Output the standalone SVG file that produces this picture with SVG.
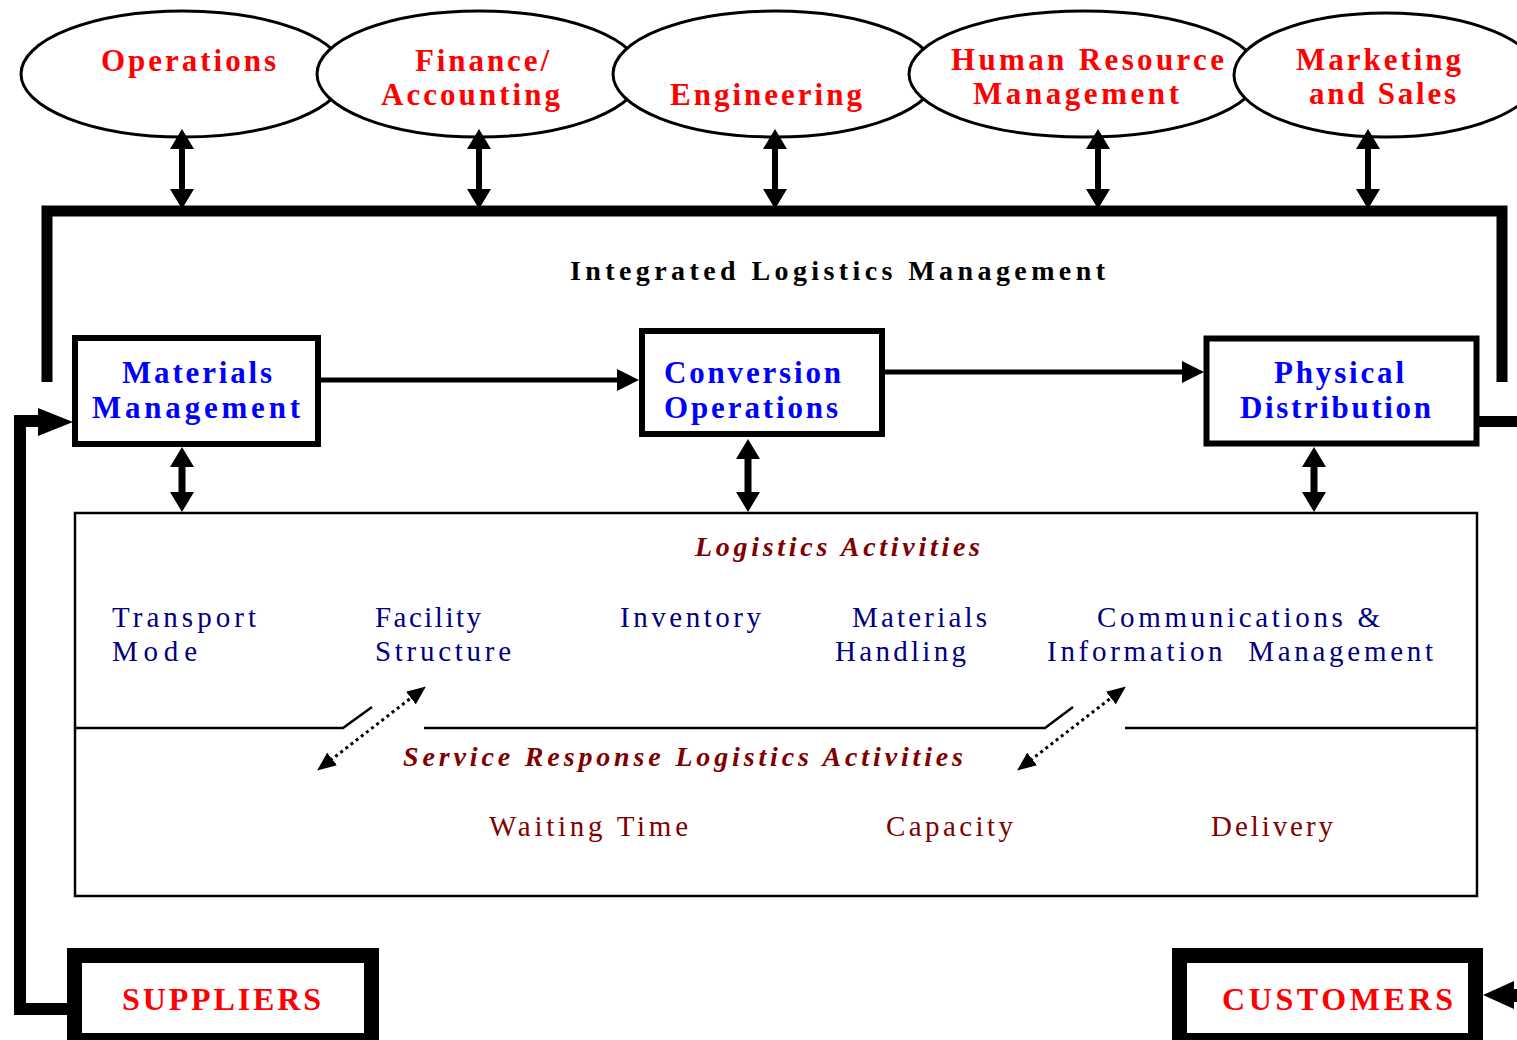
<svg xmlns="http://www.w3.org/2000/svg" width="1517" height="1040" viewBox="0 0 1517 1040">
  <style>
    .ell { fill: #fff; stroke: #000; stroke-width: 3; }
    .box { fill: #fff; stroke: #000; stroke-width: 6; }
    .ext { fill: #fff; stroke: #000; stroke-width: 15; }
    .frame { fill: none; stroke: #000; stroke-width: 2.5; }
    .t { font-family: "Liberation Serif", "Times New Roman", serif; }
    .func { font-size: 31px; font-weight: bold; fill: #ff0000; }
    .unit { font-size: 31px; font-weight: bold; fill: #0000ff; }
    .title { font-size: 28px; font-weight: bold; fill: #000; }
    .head { font-size: 28px; font-weight: bold; font-style: italic; fill: #800000; }
    .act { font-size: 29px; fill: #000080; white-space: pre; }
    .svc { font-size: 29px; fill: #800000; }
    .ext-t { font-size: 32px; font-weight: bold; fill: #ff0000; }
    .shaft { stroke: #000; fill: none; }
    .dot { stroke: #000; stroke-width: 3; stroke-dasharray: 3 3.5; fill: none; }
  </style>
  <defs>
    <marker id="ah" markerUnits="userSpaceOnUse" markerWidth="20" markerHeight="24" refX="10" refY="12" orient="auto-start-reverse">
      <path d="M0,0 L20,12 L0,24 z" fill="#000"/>
    </marker>
    <marker id="ahh" markerUnits="userSpaceOnUse" markerWidth="22" markerHeight="22" refX="11" refY="11" orient="auto-start-reverse">
      <path d="M0,0 L22,11 L0,22 z" fill="#000"/>
    </marker>
    <marker id="ahd" markerUnits="userSpaceOnUse" markerWidth="19" markerHeight="16" refX="9" refY="8" orient="auto-start-reverse">
      <path d="M0,0 L19,8 L0,16 z" fill="#000"/>
    </marker>
  </defs>

  <!-- business functions -->
  <g id="operations">
    <ellipse class="ell" cx="183" cy="74" rx="162" ry="63"/>
    <text class="t func" x="101" y="71" textLength="175" lengthAdjust="spacing">Operations</text>
  </g>
  <g id="finance">
    <ellipse class="ell" cx="479" cy="74" rx="162" ry="63"/>
    <text class="t func" x="415" y="71" textLength="134" lengthAdjust="spacing">Finance/</text>
    <text class="t func" x="381" y="105" textLength="179" lengthAdjust="spacing">Accounting</text>
  </g>
  <g id="engineering">
    <ellipse class="ell" cx="775" cy="74" rx="162" ry="63"/>
    <text class="t func" x="670" y="105" textLength="192" lengthAdjust="spacing">Engineering</text>
  </g>
  <g id="human-resource">
    <ellipse class="ell" cx="1084" cy="74" rx="175" ry="63"/>
    <text class="t func" x="951" y="70" textLength="273" lengthAdjust="spacing">Human Resource</text>
    <text class="t func" x="973" y="104" textLength="206" lengthAdjust="spacing">Management</text>
  </g>
  <g id="marketing">
    <ellipse class="ell" cx="1386" cy="75" rx="152" ry="62"/>
    <text class="t func" x="1296" y="70" textLength="165" lengthAdjust="spacing">Marketing</text>
    <text class="t func" x="1309" y="104" textLength="147" lengthAdjust="spacing">and Sales</text>
  </g>

  <!-- integrated logistics frame -->
  <g id="integrated-logistics">
    <path d="M47,382 V211 H1502 V382" fill="none" stroke="#000" stroke-width="11" stroke-linejoin="miter"/>
    <text class="t title" x="570" y="280" textLength="535" lengthAdjust="spacing">Integrated Logistics Management</text>
  </g>

  <!-- logistics units -->
  <g id="materials-management">
    <rect class="box" x="75" y="338" width="243" height="106"/>
    <text class="t unit" x="122" y="383" textLength="150" lengthAdjust="spacing">Materials</text>
    <text class="t unit" x="92" y="418" textLength="208" lengthAdjust="spacing">Management</text>
  </g>
  <g id="conversion-operations">
    <rect class="box" x="642" y="331" width="240" height="103"/>
    <text class="t unit" x="664" y="383" textLength="177" lengthAdjust="spacing">Conversion</text>
    <text class="t unit" x="664" y="418" textLength="174" lengthAdjust="spacing">Operations</text>
  </g>
  <g id="physical-distribution">
    <rect class="box" x="1206.5" y="338.5" width="270" height="105" stroke-width="7"/>
    <text class="t unit" x="1274" y="383" textLength="130" lengthAdjust="spacing">Physical</text>
    <text class="t unit" x="1240" y="418" textLength="191" lengthAdjust="spacing">Distribution</text>
  </g>

  <!-- activities panel -->
  <g id="logistics-activities">
    <rect class="frame" x="75" y="513" width="1402" height="383"/>
    <path class="frame" d="M75,728 H343 L372,707 M424,728 H1045 L1073,707 M1125,728 H1477"/>
    <text class="t head" x="695" y="556" textLength="285" lengthAdjust="spacing">Logistics Activities</text>
    <text class="t act" x="112" y="627" textLength="144" lengthAdjust="spacing">Transport</text>
    <text class="t act" x="112" y="661" textLength="85" lengthAdjust="spacing">Mode</text>
    <text class="t act" x="375" y="627" textLength="106" lengthAdjust="spacing">Facility</text>
    <text class="t act" x="375" y="661" textLength="136" lengthAdjust="spacing">Structure</text>
    <text class="t act" x="620" y="627" textLength="141" lengthAdjust="spacing">Inventory</text>
    <text class="t act" x="852" y="627" textLength="135" lengthAdjust="spacing">Materials</text>
    <text class="t act" x="835" y="661" textLength="131" lengthAdjust="spacing">Handling</text>
    <text class="t act" x="1097" y="627" textLength="283" lengthAdjust="spacing">Communications &amp;</text>
    <text class="t act" x="1047" y="661" textLength="386" lengthAdjust="spacing">Information  Management</text>
    <text class="t head" x="403" y="766" textLength="560" lengthAdjust="spacing">Service Response Logistics Activities</text>
    <text class="t svc" x="489" y="836" textLength="199" lengthAdjust="spacing">Waiting Time</text>
    <text class="t svc" x="886" y="836" textLength="127" lengthAdjust="spacing">Capacity</text>
    <text class="t svc" x="1211" y="836" textLength="122" lengthAdjust="spacing">Delivery</text>
  </g>

  <!-- supply chain ends -->
  <g id="suppliers">
    <rect class="ext" x="74.5" y="955.5" width="297" height="85"/>
    <text class="t ext-t" x="122" y="1010" textLength="199" lengthAdjust="spacing">SUPPLIERS</text>
  </g>
  <g id="customers">
    <rect class="ext" x="1179.5" y="955.5" width="296" height="85"/>
    <text class="t ext-t" x="1222" y="1010" textLength="231" lengthAdjust="spacing">CUSTOMERS</text>
  </g>

  <!-- connectors -->
  <g id="connectors">
    <!-- functions to integrated frame -->
    <line class="shaft" stroke-width="6" x1="182" y1="139" x2="182" y2="199" marker-start="url(#ah)" marker-end="url(#ah)"/>
    <line class="shaft" stroke-width="6" x1="479" y1="139" x2="479" y2="199" marker-start="url(#ah)" marker-end="url(#ah)"/>
    <line class="shaft" stroke-width="6" x1="775" y1="139" x2="775" y2="199" marker-start="url(#ah)" marker-end="url(#ah)"/>
    <line class="shaft" stroke-width="6" x1="1098" y1="139" x2="1098" y2="199" marker-start="url(#ah)" marker-end="url(#ah)"/>
    <line class="shaft" stroke-width="6" x1="1368" y1="139" x2="1368" y2="199" marker-start="url(#ah)" marker-end="url(#ah)"/>

    <!-- material flow between units -->
    <line class="shaft" stroke-width="5" x1="321" y1="380" x2="628" y2="380" marker-end="url(#ahh)"/>
    <line class="shaft" stroke-width="5" x1="885" y1="372" x2="1193" y2="372" marker-end="url(#ahh)"/>

    <!-- units to activities panel -->
    <line class="shaft" stroke-width="7" x1="182" y1="457" x2="182" y2="502" marker-start="url(#ah)" marker-end="url(#ah)"/>
    <line class="shaft" stroke-width="7" x1="748" y1="449" x2="748" y2="502" marker-start="url(#ah)" marker-end="url(#ah)"/>
    <line class="shaft" stroke-width="7" x1="1314" y1="457" x2="1314" y2="502" marker-start="url(#ah)" marker-end="url(#ah)"/>

    <!-- links between activity groups -->
    <line class="dot" x1="325" y1="764.5" x2="418" y2="692.5" marker-start="url(#ahd)" marker-end="url(#ahd)"/>
    <line class="dot" x1="1025" y1="764.5" x2="1118" y2="692.5" marker-start="url(#ahd)" marker-end="url(#ahd)"/>

    <!-- suppliers into materials management -->
    <path d="M68,1009 H20 V421 H42" fill="none" stroke="#000" stroke-width="12" stroke-linejoin="miter"/>
    <polygon points="38,408 73,422 38,436" fill="#000"/>

    <!-- physical distribution out to customers -->
    <line x1="1478" y1="421.5" x2="1517" y2="421.5" stroke="#000" stroke-width="11"/>
    <line x1="1510" y1="995.5" x2="1517" y2="995.5" stroke="#000" stroke-width="13"/>
    <polygon points="1483,995 1514,981 1514,1009" fill="#000"/>
  </g>
</svg>
